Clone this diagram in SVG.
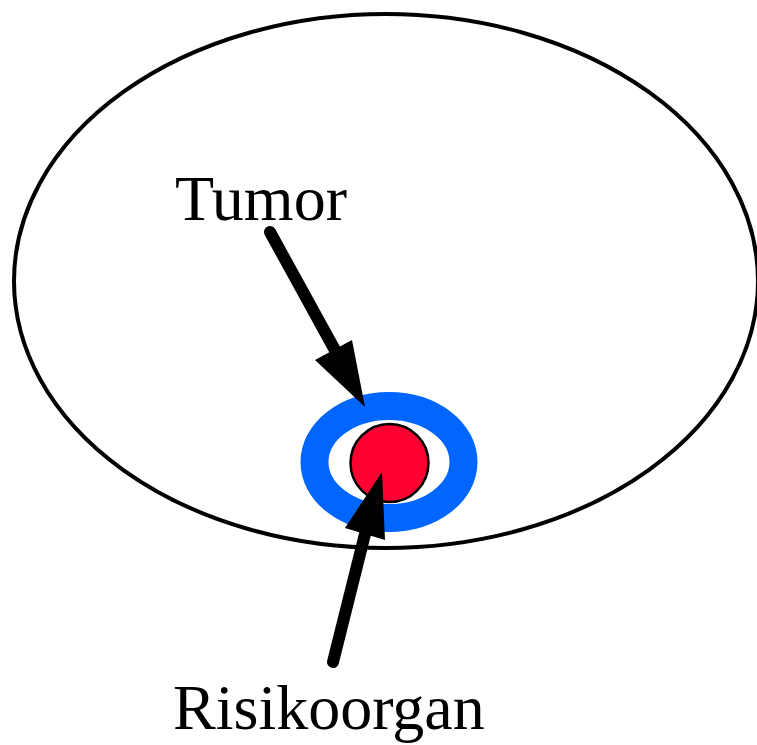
<svg xmlns="http://www.w3.org/2000/svg" width="757" height="745" viewBox="0 0 757 745">
<style>
.lbl{font-family:"Liberation Serif","Times New Roman",serif;font-size:64px;fill:#000}
.shaft{stroke:#000;stroke-width:12;stroke-linecap:round;fill:none}
</style>
<rect width="757" height="745" fill="#fff"/>
<g id="body"><ellipse cx="386" cy="281" rx="372" ry="267" fill="none" stroke="#000" stroke-width="4"/></g>
<g id="tumor"><ellipse cx="389" cy="462" rx="74.5" ry="56" fill="none" stroke="#0066ff" stroke-width="28"/></g>
<g id="organ"><circle cx="389.5" cy="463" r="39" fill="#ff0033" stroke="#000" stroke-width="2.5"/></g>
<g id="connectors">
<line class="shaft" x1="270" y1="232" x2="336" y2="352"/>
<polygon points="365,407 315,360 352,340" fill="#000"/>
<line class="shaft" x1="333" y1="662" x2="366" y2="530"/>
<polygon points="382,472 345,528 385,540" fill="#000"/>
</g>
<g id="labels">
<text class="lbl" x="175" y="220">Tumor</text>
<text class="lbl" x="173" y="729">Risikoorgan</text>
</g>
</svg>
